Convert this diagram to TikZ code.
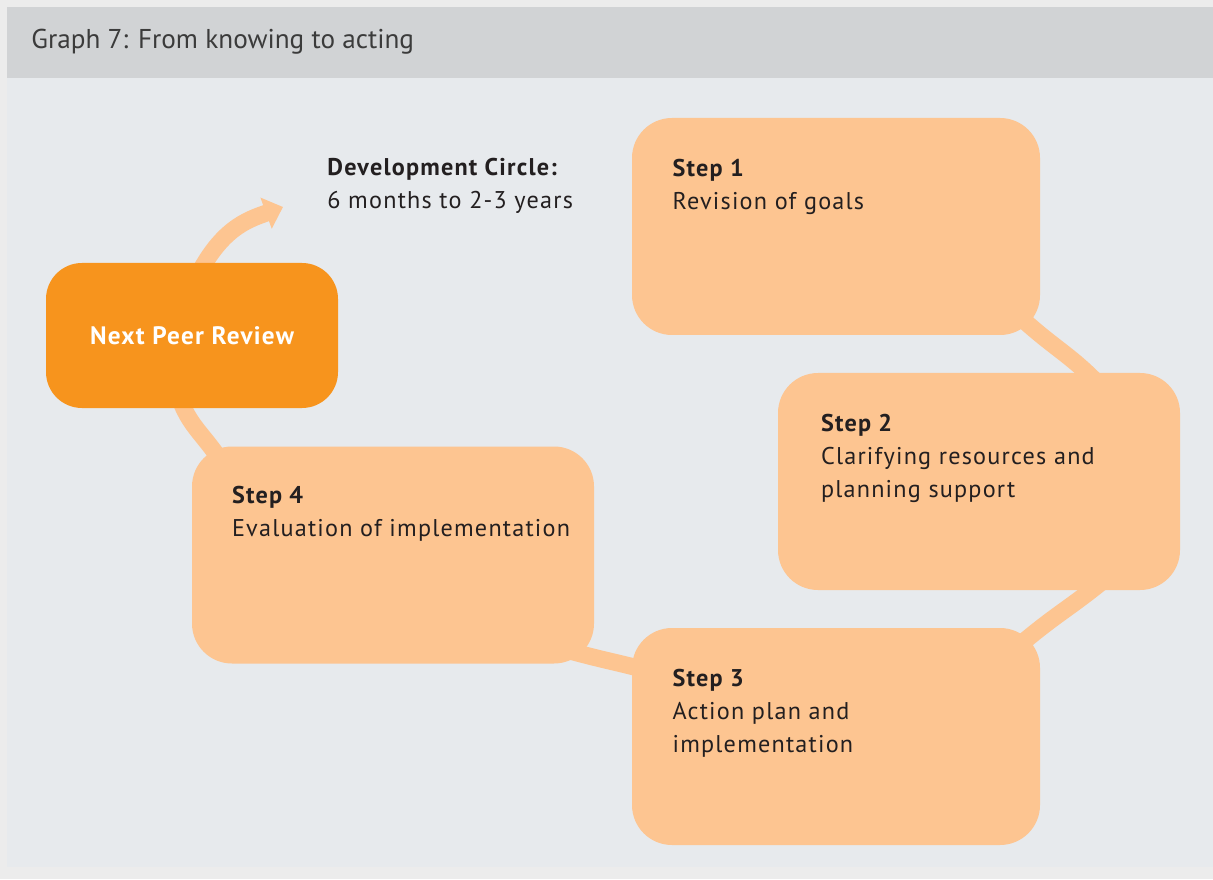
\documentclass[tikz,border=0pt]{standalone}
\usepackage{fontspec}
\setmainfont{PT Sans}
\newfontfamily\bodyfont{PT Sans}[LetterSpace=5]
\usetikzlibrary{arrows.meta,positioning,backgrounds}
\definecolor{pagegray}{HTML}{ECECEC}
\definecolor{panelgray}{HTML}{E7EAED}
\definecolor{headgray}{HTML}{D1D3D5}
\definecolor{titlegray}{HTML}{3B3B3B}
\definecolor{lightorange}{HTML}{FDC591}
\definecolor{darkorange}{HTML}{F7941D}
\definecolor{inkbrown}{HTML}{231F20}

\begin{document}
\begin{tikzpicture}[x=0.5pt, y=0.5pt,
	box/.style={rectangle, rounded corners=20pt, fill=lightorange, minimum width=204pt, minimum height=108.5pt, inner sep=0pt},
	steptext/.style={inner sep=0pt, align=left, text=inkbrown, font=\bodyfont\fontsize{12.1}{16.5}\selectfont},
	ring/.style={draw=lightorange, line width=8.5pt, shorten <=-12pt, shorten >=-12pt}]
	\useasboundingbox (0,0) rectangle (1213,879);
	\node[box, rounded corners=18pt, minimum width=146pt, minimum height=72.5pt, fill=darkorange, text=white, font=\bodyfont\bfseries\fontsize{12.6}{14}\selectfont] (npr) at (192,543.5) {Next Peer Review};
	\node[box] (s1) at (836,652.5) {};
	\node[box, minimum width=201pt] (s2) at (979,397.5) {};
	\node[box] (s3) at (836,142.5) {};
	\node[box, minimum width=201pt] (s4) at (393,324) {};
	\node[steptext, below right=20.5pt and 20.3pt of s1.north west] (t1) {\textbf{Step 1}\\Revision of goals};
	\node[steptext, below right=20.5pt and 21.5pt of s2.north west] (t2) {\textbf{Step 2}\\Clarifying resources and\\planning support};
	\node[steptext, below right=20.5pt and 20.3pt of s3.north west] (t3) {\textbf{Step 3}\\Action plan and\\implementation};
	\node[steptext, below right=20pt and 20pt of s4.north west] (t4) {\textbf{Step 4}\\Evaluation of implementation};
	\node[steptext, anchor=north west] (dev) at (327,721) {\textbf{Development Circle:}\\6 months to 2-3 years};
	\node[anchor=base west, inner sep=0pt, text=titlegray, font=\fontsize{13.6}{16}\selectfont] (title) at (31,830.7) {Graph 7: From knowing to acting};
	\coordinate (tip) at (283,672);
	\begin{scope}[on background layer]
		\fill[pagegray] (0,0) rectangle (1213,879);
		\fill[panelgray] (7,12) rectangle (1213,872);
		\fill[headgray] (7,801) rectangle (1213,872);
		\draw[ring] (s1.south east) to[out=-42,in=133] (s2.45);
		\draw[ring] (s2.-44) to[out=-140,in=40] (s3.north east);
		\draw[ring] (s3.161) to[out=165,in=-15] (s4.-27);
		\draw[ring] (s4.149) to[out=122,in=-75] (npr.-98);
		\draw[ring, shorten >=0pt, -{Triangle[width=16pt,length=9pt]}] (npr.81) to[out=65,in=200] (tip);
	\end{scope}
\end{tikzpicture}
\end{document}
